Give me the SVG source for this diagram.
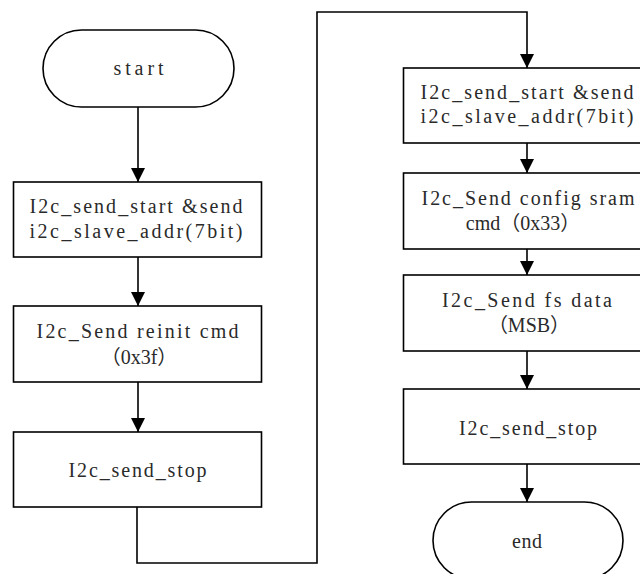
<svg xmlns="http://www.w3.org/2000/svg" width="640" height="574" viewBox="0 0 640 574">
<defs>
<marker id="arr" markerUnits="userSpaceOnUse" markerWidth="14" markerHeight="15" refX="14" refY="7" orient="auto" viewBox="0 0 14 14">
<path d="M0,0 L14,7 L0,14 Z" fill="#000"/>
</marker>
<style>
.shape{fill:#fff;stroke:#000;stroke-width:1.6}
.conn{fill:none;stroke:#000;stroke-width:1.6;marker-end:url(#arr)}
text{font-family:"Liberation Serif","Noto Sans CJK SC",serif;font-size:20px;fill:#2a2a2a;text-anchor:middle}
</style>
</defs>
<rect width="640" height="574" fill="#fff"/>
<g id="connectors">
<path class="conn" d="M138,107 V182"/>
<path class="conn" d="M138,257 V306"/>
<path class="conn" d="M138,382 V432"/>
<path class="conn" d="M137,507 V563 H317 V12 H527 V68"/>
<path class="conn" d="M527,143 V173"/>
<path class="conn" d="M527,249 V275"/>
<path class="conn" d="M527,351 V389"/>
<path class="conn" d="M527,464 V502"/>
</g>
<g id="start">
<rect class="shape" x="43" y="30" width="191" height="77" rx="38.5" ry="38.5"/>
<text x="138.5" y="75" textLength="50" lengthAdjust="spacing">start</text>
</g>
<g id="box1">
<rect class="shape" x="13.5" y="182" width="248" height="75"/>
<text x="136" y="213" textLength="213" lengthAdjust="spacing">I2c_send_start &amp;send</text>
<text x="136" y="238" textLength="213" lengthAdjust="spacing">i2c_slave_addr(7bit)</text>
</g>
<g id="box2">
<rect class="shape" x="13.5" y="306" width="248" height="76"/>
<text x="137.5" y="338" textLength="202" lengthAdjust="spacing">I2c_Send reinit cmd</text>
<text x="139" y="364">（0x3f）</text>
</g>
<g id="box3">
<rect class="shape" x="13.5" y="432" width="248" height="75"/>
<text x="137.5" y="477" textLength="138" lengthAdjust="spacing">I2c_send_stop</text>
</g>
<g id="boxA">
<rect class="shape" x="403.5" y="68" width="248" height="75"/>
<text x="527" y="99" textLength="213" lengthAdjust="spacing">I2c_send_start &amp;send</text>
<text x="527" y="123" textLength="213" lengthAdjust="spacing">i2c_slave_addr(7bit)</text>
</g>
<g id="boxB">
<rect class="shape" x="403.5" y="173" width="248" height="76"/>
<text x="528" y="205" textLength="213" lengthAdjust="spacing">I2c_Send config sram</text>
<text x="523" y="230">cmd（0x33）</text>
</g>
<g id="boxC">
<rect class="shape" x="403.5" y="275" width="248" height="76"/>
<text x="527" y="307" textLength="170" lengthAdjust="spacing">I2c_Send fs data</text>
<text x="529" y="332">（MSB）</text>
</g>
<g id="boxD">
<rect class="shape" x="403.5" y="389" width="248" height="75"/>
<text x="528" y="435" textLength="138" lengthAdjust="spacing">I2c_send_stop</text>
</g>
<g id="end">
<rect class="shape" x="433" y="502" width="190" height="77" rx="38.5" ry="38.5"/>
<text x="527" y="548" textLength="30" lengthAdjust="spacing">end</text>
</g>
</svg>
